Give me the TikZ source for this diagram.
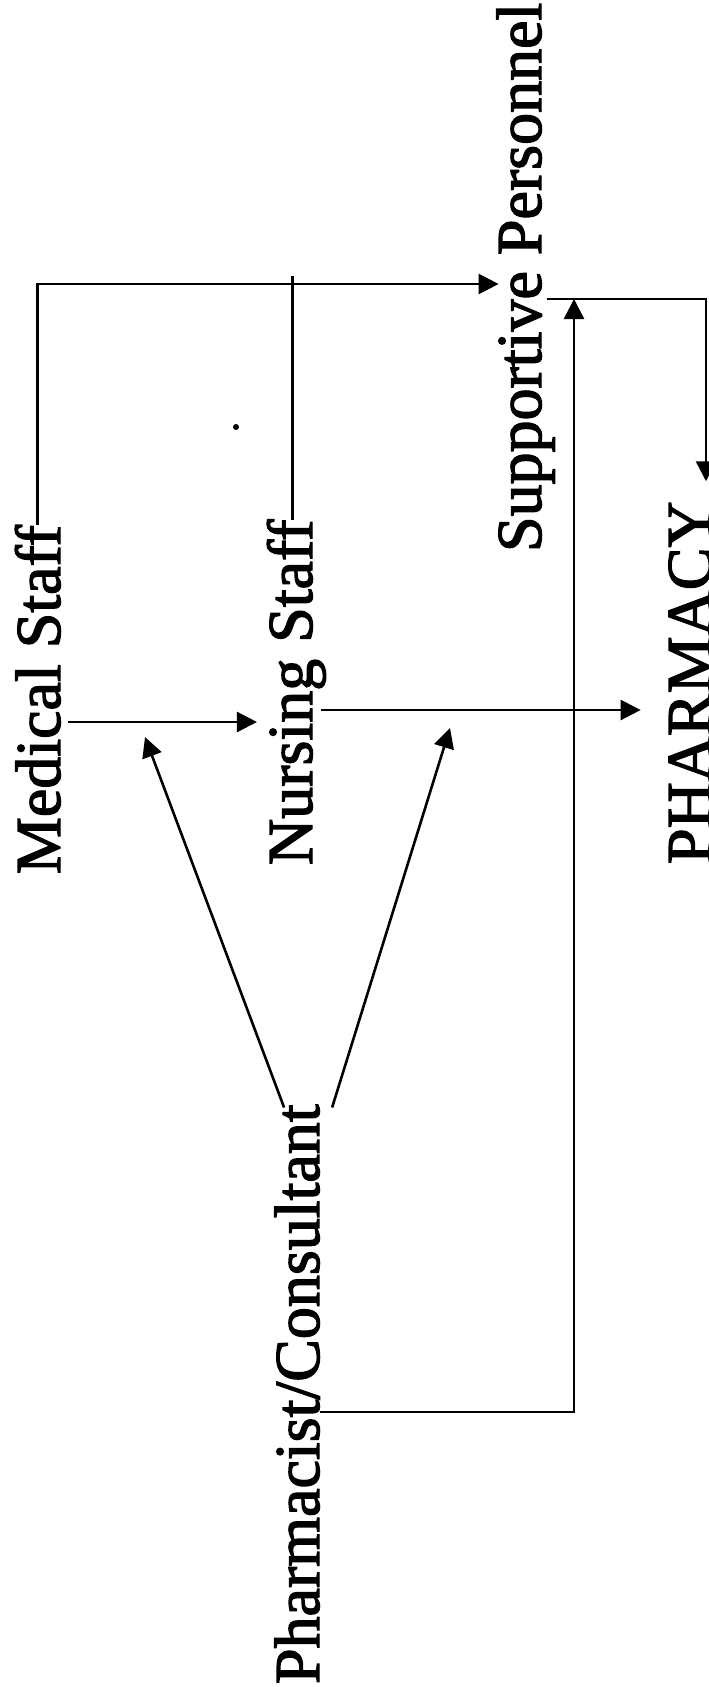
\documentclass[tikz,border=0pt]{standalone}
\usepackage{fontspec}
\setmainfont{Liberation Serif}
\newfontfamily\lblfont{Liberation Serif}[FakeBold=2]
\usetikzlibrary{arrows.meta,calc}
\begin{document}
\begin{tikzpicture}[x=1pt,y=-1pt,
  lbl/.style={rotate=90,anchor=base west,inner sep=0pt,outer sep=0pt,
    font=\lblfont\fontsize{64pt}{70pt}\selectfont},
  conn/.style={line width=2.6pt,line join=miter},
  arr/.style={conn,-{Triangle[length=20pt,width=20pt]}}]
\useasboundingbox (0,0) rectangle (709,1687);
% labels
\node[lbl] (Medical)    at (60,874)   {Medical Staff};
\node[lbl] (Nursing)    at (312,865)  {Nursing Staff};
\node[lbl] (Supportive) at (541,552)  {Supportive Personnel};
\node[lbl] (Pharmacy)   at (711,864)  {PHARMACY};
\node[lbl] (Pharm)      at (319,1684) {Pharmacist/Consultant};
% helper coordinates
\coordinate (yTop) at (0,284);
\coordinate (ySP)  at (0,299);
\coordinate (yMN)  at (0,722);
\coordinate (yNP)  at (0,710);
\coordinate (yPS)  at (0,1412);
\coordinate (xPS)  at (574,0);
\coordinate (xR)   at (706,0);
\coordinate (tipL) at (145,737);
\coordinate (tipR) at (450,728);
% Medical Staff -> Supportive Personnel
\draw[arr] (Medical.east) -- (Medical.east |- yTop) -- ($(Supportive.north |- yTop)+(2,0)$);
% Nursing Staff joins the line
\draw[conn] ($(Nursing.east)+(-4,0)$) -- ($(Nursing.east |- yTop)+(-4,-8)$);
% Supportive Personnel -> PHARMACY
\draw[arr] ($(Supportive.south |- ySP)+(-8,0)$) -- (xR |- ySP) -- ($(xR |- Pharmacy.east)+(0,-20)$);
% Pharmacist/Consultant -> Supportive Personnel
\draw[arr] (Pharm.south |- yPS) -- (xPS |- yPS) -- (xPS |- ySP);
% Medical Staff -> Nursing Staff
\draw[arr] ($(Medical.south |- yMN)+(7,0)$) -- ($(Nursing.north |- yMN)+(-10,0)$);
% Nursing Staff -> PHARMACY
\draw[arr] ($(Nursing.south |- yNP)+(-5,0)$) -- ($(Pharmacy.north |- yNP)+(-28,0)$);
% Pharmacist/Consultant -> the two communications
\draw[arr] ($(Pharm.east)+(-13,3)$) -- (tipL);
\draw[arr] ($(Pharm.east)+(35,3)$) -- (tipR);
% speck
\fill (236,427) circle (3pt);
\end{tikzpicture}
\end{document}
